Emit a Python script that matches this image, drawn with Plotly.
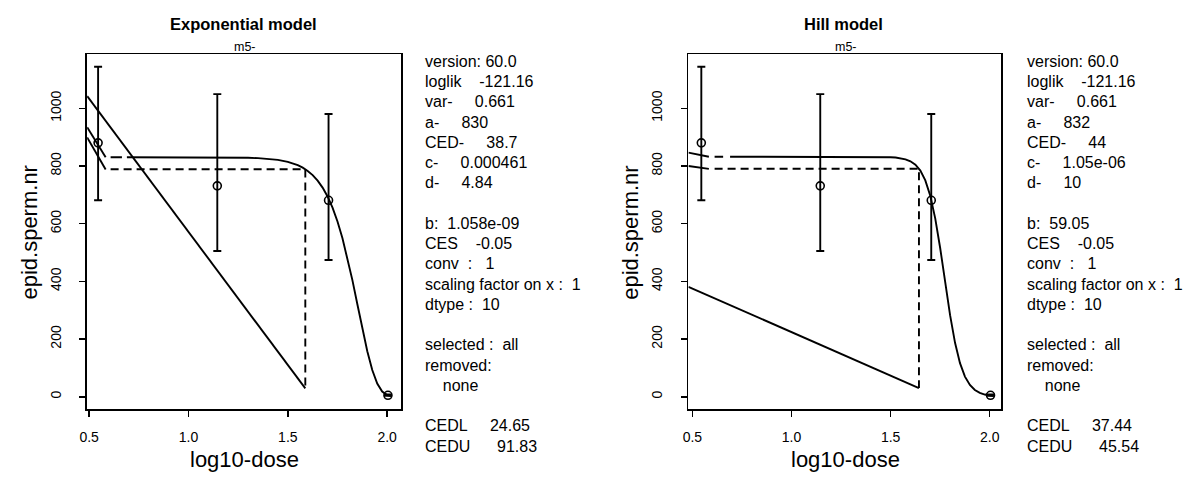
import plotly.graph_objects as go

W, H = 1202, 479

# ---------------- data ----------------
dose_log = [0.545, 1.145, 1.705, 2.004]
resp_mean = [880, 731, 681, 5]
err_plus = [264, 318, 299, 3]
err_minus = [199, 226, 207, 2]

exp_curve_x = [0.69, 1.0, 1.2, 1.3, 1.35, 1.4, 1.45, 1.5, 1.525, 1.55, 1.575, 1.6, 1.625, 1.65,
               1.675, 1.7, 1.725, 1.75, 1.775, 1.8, 1.825, 1.85, 1.875, 1.9, 1.925, 1.95,
               1.975, 2.0, 2.02]
exp_curve_y = [830.0, 829.9, 829.4, 828.3, 827.0, 824.8, 820.9, 814.2, 809.3, 802.6, 794.0, 782.7,
               768.1, 749.3, 725.0, 694.2, 655.4, 607.6, 549.5, 481.5, 404.3, 320.8, 236.4,
               157.8, 92.8, 46.0, 18.3, 5.6, 1.9]

hill_curve_x = [0.69, 1.2, 1.4, 1.45, 1.5, 1.525, 1.55, 1.575, 1.6, 1.625, 1.65, 1.675, 1.7,
                1.725, 1.75, 1.775, 1.8, 1.825, 1.85, 1.875, 1.9, 1.925, 1.95, 1.975, 2.0, 2.02]
hill_curve_y = [832.0, 832.0, 831.8, 831.5, 830.4, 829.1, 826.9, 823.0, 816.2, 804.2, 783.9,
                750.1, 696.8, 618.5, 515.6, 397.8, 282.9, 186.9, 116.6, 69.8, 40.8, 23.4,
                13.3, 7.6, 4.3, 2.7]

# helper segments
exp_upper_slash_x = [0.49, 0.583]
exp_upper_slash_y = [934, 830]
exp_lower_slash_x = [0.49, 0.583]
exp_lower_slash_y = [899, 788]
exp_short_dash_x = [0.608, 0.665]
exp_short_dash_y = [830, 830]
exp_ces_x = [0.608, 1.588, 1.588]
exp_ces_y = [788.5, 788.5, 29]
exp_diag_x = [0.49, 1.588]
exp_diag_y = [1042, 29]

hill_upper_slash_x = [0.48, 0.583]
hill_upper_slash_y = [846, 832]
hill_lower_slash_x = [0.48, 0.583]
hill_lower_slash_y = [800, 790]
hill_short_dash_x = [0.612, 0.655]
hill_short_dash_y = [832, 832]
hill_ces_x = [0.612, 1.643, 1.643]
hill_ces_y = [790.4, 790.4, 30]
hill_diag_x = [0.48, 1.643]
hill_diag_y = [381, 30]

x_ticks = [0.5, 1.0, 1.5, 2.0]
x_tick_text = ["0.5", "1.0", "1.5", "2.0"]
y_ticks = [0, 200, 400, 600, 800, 1000]
y_tick_text = ["0", "200", "400", "600", "800", "1000"]

titles = ["Exponential model", "Hill model"]
subtitle = "m5-"
x_title = "log10-dose"
y_title = "epid.sperm.nr"

NB = "\u00a0"
def sp(n):
    return NB * n

left_panel = [
    "version:" + sp(1) + "60.0",
    "loglik" + sp(4) + "-121.16",
    "var-" + sp(5) + "0.661",
    "a-" + sp(5) + "830",
    "CED-" + sp(5) + "38.7",
    "c-" + sp(5) + "0.000461",
    "d-" + sp(5) + "4.84",
    "",
    "b:" + sp(2) + "1.058e-09",
    "CES" + sp(4) + "-0.05",
    "conv" + sp(2) + ":" + sp(3) + "1",
    "scaling" + sp(1) + "factor" + sp(1) + "on" + sp(1) + "x" + sp(1) + ":" + sp(2) + "1",
    "dtype" + sp(1) + ":" + sp(2) + "10",
    "",
    "selected" + sp(1) + ":" + sp(2) + "all",
    "removed:",
    sp(4) + "none",
    "",
    "CEDL" + sp(5) + "24.65",
    "CEDU" + sp(6) + "91.83",
]
right_panel = [
    "version:" + sp(1) + "60.0",
    "loglik" + sp(4) + "-121.16",
    "var-" + sp(5) + "0.661",
    "a-" + sp(5) + "832",
    "CED-" + sp(5) + "44",
    "c-" + sp(5) + "1.05e-06",
    "d-" + sp(5) + "10",
    "",
    "b:" + sp(2) + "59.05",
    "CES" + sp(4) + "-0.05",
    "conv" + sp(2) + ":" + sp(3) + "1",
    "scaling" + sp(1) + "factor" + sp(1) + "on" + sp(1) + "x" + sp(1) + ":" + sp(2) + "1",
    "dtype" + sp(1) + ":" + sp(2) + "10",
    "",
    "selected" + sp(1) + ":" + sp(2) + "all",
    "removed:",
    sp(4) + "none",
    "",
    "CEDL" + sp(5) + "37.44",
    "CEDU" + sp(6) + "45.54",
]

# ---------------- layout geometry (pixels) ----------------
FONT = "Liberation Sans, Arial, Helvetica, sans-serif"
BLACK = "black"
LW = 1.9

boxes = [  # left, right, top, bottom in pixels
    (79.7, 396.0, 54.3, 409.3),
    (685.0, 1000.0, 54.3, 409.3),
]
x_ranges = [[0.49, 2.0715], [0.48, 2.0586]]
y_range = [-43.5, 1187]

fig = go.Figure()

def add_line(xs, ys, axis, dash="solid"):
    fig.add_trace(go.Scatter(x=xs, y=ys, mode="lines", xaxis="x" + axis, yaxis="y" + axis,
                             line=dict(color=BLACK, width=LW, dash=dash),
                             showlegend=False, hoverinfo="skip"))

panels = [
    dict(axis="", curve=(exp_curve_x, exp_curve_y),
         up=(exp_upper_slash_x, exp_upper_slash_y), lo=(exp_lower_slash_x, exp_lower_slash_y),
         sd=(exp_short_dash_x, exp_short_dash_y), ces=(exp_ces_x, exp_ces_y),
         diag=(exp_diag_x, exp_diag_y)),
    dict(axis="2", curve=(hill_curve_x, hill_curve_y),
         up=(hill_upper_slash_x, hill_upper_slash_y), lo=(hill_lower_slash_x, hill_lower_slash_y),
         sd=(hill_short_dash_x, hill_short_dash_y), ces=(hill_ces_x, hill_ces_y),
         diag=(hill_diag_x, hill_diag_y)),
]

DASH = "8px,5px"
for p in panels:
    a = p["axis"]
    add_line(*p["diag"], a)
    add_line(*p["up"], a)
    add_line(*p["lo"], a)
    add_line(*p["sd"], a)
    add_line(*p["ces"], a, dash=DASH)
    add_line(*p["curve"], a)
    fig.add_trace(go.Scatter(
        x=dose_log, y=resp_mean, mode="markers", xaxis="x" + a, yaxis="y" + a,
        marker=dict(symbol="circle-open", size=8, color=BLACK, line=dict(width=1.6, color=BLACK)),
        error_y=dict(type="data", symmetric=False, array=err_plus, arrayminus=err_minus,
                     color=BLACK, thickness=LW, width=4),
        showlegend=False, hoverinfo="skip"))

annotations = []
for i, (l, r, t, b) in enumerate(boxes):
    a = "" if i == 0 else str(i + 1)
    xd = [l / W, r / W]
    yd = [1 - b / H, 1 - t / H]
    fig.update_layout(**{
        "xaxis" + a: dict(domain=xd, range=x_ranges[i], anchor="y" + a,
                          tickvals=x_ticks, ticktext=x_tick_text,
                          showline=True, mirror=True, linecolor=BLACK, linewidth=1.7,
                          ticks="outside", ticklen=6, tickwidth=1.5, tickcolor=BLACK,
                          showgrid=False, zeroline=False,
                          tickfont=dict(family=FONT, size=14, color=BLACK),
                          ticklabelstandoff=8),
        "yaxis" + a: dict(domain=yd, range=y_range, anchor="x" + a,
                          tickvals=y_ticks, ticktext=y_tick_text,
                          showline=True, mirror=True, linecolor=BLACK, linewidth=1.7,
                          ticks="outside", ticklen=6, tickwidth=1.5, tickcolor=BLACK,
                          showgrid=False, zeroline=False, tickangle=-90,
                          tickfont=dict(family=FONT, size=14, color=BLACK),
                          ticklabelstandoff=13),
    })
    cx = (l + r) / 2
    annotations.append(dict(text="<b>" + titles[i] + "</b>", x=(cx - 1) / W, y=1 - 24 / H,
                            xref="paper", yref="paper", showarrow=False,
                            xanchor="center", yanchor="middle",
                            font=dict(family=FONT, size=16.5, color=BLACK)))
    annotations.append(dict(text=subtitle, x=(cx + 1) / W, y=1 - 47.5 / H,
                            xref="paper", yref="paper", showarrow=False,
                            xanchor="center", yanchor="middle",
                            font=dict(family=FONT, size=12.5, color=BLACK)))
    annotations.append(dict(text=x_title, x=(cx + 0.5) / W, y=1 - 459 / H,
                            xref="paper", yref="paper", showarrow=False,
                            xanchor="center", yanchor="middle",
                            font=dict(family=FONT, size=22, color=BLACK)))
    annotations.append(dict(text=y_title, x=(l - 59) / W, y=1 - 232 / H,
                            xref="paper", yref="paper", showarrow=False, textangle=-90,
                            xanchor="center", yanchor="middle",
                            font=dict(family=FONT, size=22, color=BLACK)))

panel_x = [417.3, 1024.3]
first_y = 61.5
step = 20.24
for px, lines in zip(panel_x, [left_panel, right_panel]):
    for k, line in enumerate(lines):
        if not line:
            continue
        annotations.append(dict(text=line, x=px / W, y=1 - (first_y + k * step) / H,
                                xref="paper", yref="paper", showarrow=False,
                                xanchor="left", yanchor="middle",
                                font=dict(family=FONT, size=16, color=BLACK)))

fig.update_layout(width=W, height=H, margin=dict(l=0, r=0, t=0, b=0),
                  paper_bgcolor="white", plot_bgcolor="white",
                  annotations=annotations, showlegend=False)

fig.write_html("out.html", config={"displayModeBar": False, "staticPlot": True},
               post_script="document.body.style.margin='0px';document.body.style.overflow='hidden';")
